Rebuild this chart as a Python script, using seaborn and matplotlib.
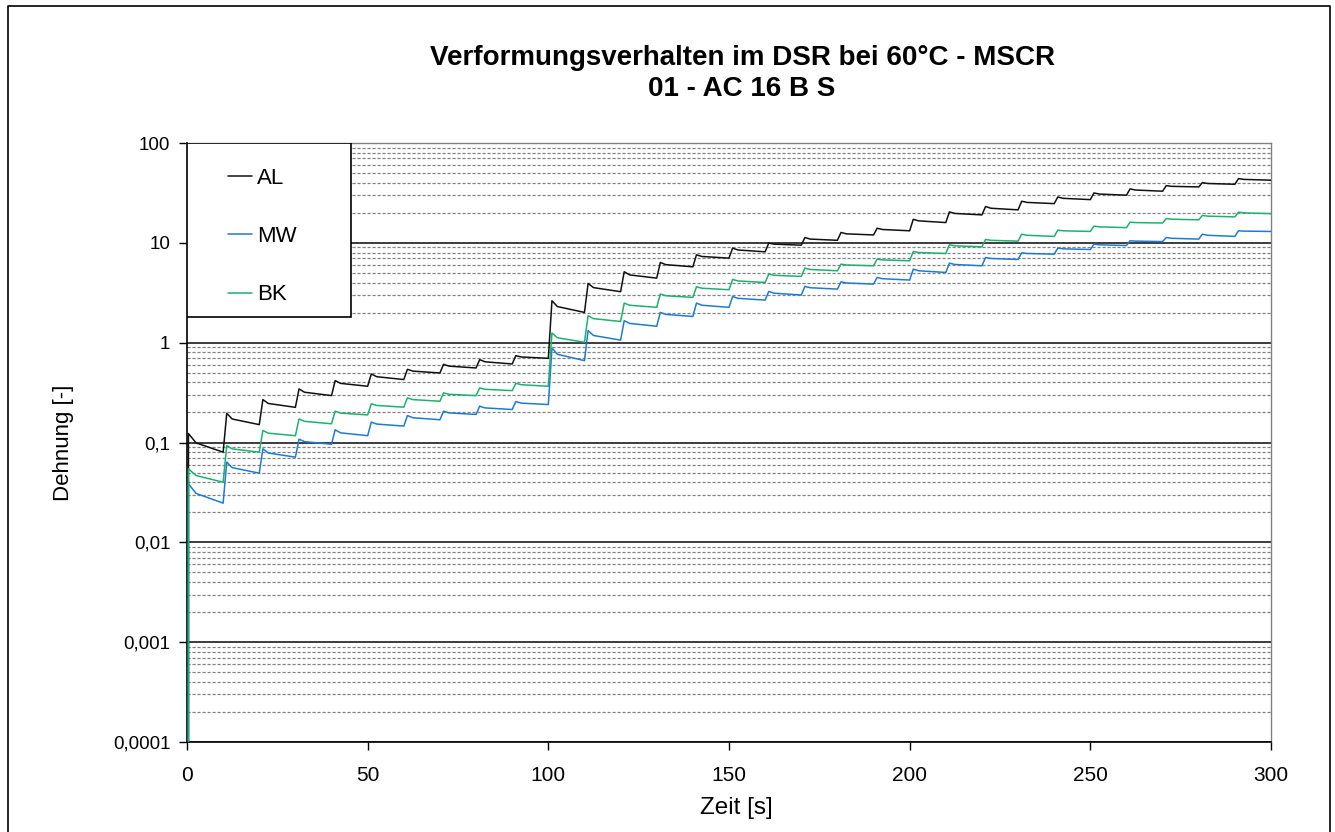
import numpy as np
import pandas as pd
import matplotlib
matplotlib.use("Agg")
import matplotlib.pyplot as plt
from matplotlib.ticker import FixedLocator, FixedFormatter, LogLocator, NullFormatter
from matplotlib.patches import Rectangle
from matplotlib.lines import Line2D
import seaborn as sns

# ---------------- data ----------------
series_names = ["AL", "MW", "BK"]
cycle_start = [0, 10, 20, 30, 40, 50, 60, 70, 80, 90,
               100, 110, 120, 130, 140, 150, 160, 170, 180, 190,
               200, 210, 220, 230, 240, 250, 260, 270, 280, 290]
# time after cycle start at which the peak is reached (first cycle reads earlier)
peak_offset = [0.4] + [1.0] * 29
mid_offset = 2.5
cycle_length = 10.0

AL_peak = [0.123, 0.196, 0.269, 0.344, 0.417, 0.486, 0.541, 0.607, 0.676, 0.741,
           2.63, 3.92, 5.13, 6.36, 7.59, 8.85, 9.93, 11.3, 12.7, 14.0,
           17.2, 20.4, 23.1, 26.1, 28.8, 31.6, 34.7, 37.4, 40.1, 44.0]
AL_mid = [0.0992, 0.172, 0.246, 0.319, 0.391, 0.456, 0.519, 0.582, 0.643, 0.719,
          2.30, 3.56, 4.77, 6.05, 7.30, 8.48, 9.70, 10.9, 12.3, 13.6,
          16.6, 19.7, 22.2, 25.4, 27.9, 30.8, 33.8, 36.8, 39.3, 43.2]
AL_end = [0.080, 0.151, 0.225, 0.295, 0.366, 0.427, 0.497, 0.558, 0.612, 0.697,
          2.01, 3.24, 4.43, 5.75, 7.03, 8.13, 9.48, 10.6, 12.0, 13.2,
          15.96, 19.05, 21.4, 24.7, 27.1, 30.0, 32.9, 36.3, 38.6, 42.4]

MW_peak = [0.0386, 0.0636, 0.0865, 0.108, 0.134, 0.160, 0.186, 0.206, 0.231, 0.257,
           0.885, 1.32, 1.66, 2.01, 2.49, 2.90, 3.26, 3.66, 4.07, 4.50,
           5.45, 6.26, 7.13, 7.94, 8.85, 9.70, 10.5, 11.3, 12.2, 13.2]
MW_mid = [0.0309, 0.0560, 0.0785, 0.102, 0.125, 0.153, 0.177, 0.198, 0.222, 0.248,
          0.765, 1.18, 1.56, 1.92, 2.37, 2.78, 3.13, 3.55, 3.96, 4.37,
          5.25, 6.07, 6.97, 7.82, 8.71, 9.55, 10.4, 11.1, 11.9, 13.1]
MW_end = [0.0247, 0.0493, 0.0713, 0.0960, 0.117, 0.146, 0.169, 0.191, 0.214, 0.240,
          0.661, 1.06, 1.46, 1.83, 2.26, 2.67, 3.00, 3.44, 3.86, 4.24,
          5.05, 5.89, 6.81, 7.70, 8.57, 9.40, 10.3, 10.9, 11.6, 13.0]

BK_peak = [0.0545, 0.093, 0.132, 0.172, 0.206, 0.244, 0.280, 0.314, 0.352, 0.392,
           1.25, 1.86, 2.49, 3.07, 3.63, 4.30, 4.86, 5.58, 6.12, 6.87,
           8.19, 9.55, 10.8, 12.2, 13.4, 14.7, 16.1, 17.5, 18.8, 20.3]
BK_mid = [0.0467, 0.0863, 0.124, 0.163, 0.197, 0.235, 0.269, 0.304, 0.341, 0.379,
          1.12, 1.74, 2.37, 2.95, 3.51, 4.15, 4.73, 5.41, 6.00, 6.74,
          8.00, 9.33, 10.6, 11.9, 13.2, 14.45, 15.95, 17.25, 18.5, 19.95]
BK_end = [0.040, 0.080, 0.117, 0.154, 0.189, 0.226, 0.259, 0.295, 0.331, 0.366,
          1.01, 1.63, 2.26, 2.84, 3.39, 4.01, 4.61, 5.25, 5.89, 6.61,
          7.82, 9.12, 10.4, 11.6, 13.0, 14.2, 15.8, 17.0, 18.2, 19.6]

initial_strain = 0.0

x_ticks = [0, 50, 100, 150, 200, 250, 300]
y_ticks = [0.0001, 0.001, 0.01, 0.1, 1, 10, 100]
y_ticklabels = ["0,0001", "0,001", "0,01", "0,1", "1", "10", "100"]

title_line1 = "Verformungsverhalten im DSR bei 60°C - MSCR"
title_line2 = "01 - AC 16 B S"
xlabel = "Zeit [s]"
ylabel = "Dehnung [-]"

colors = {"AL": "#111111", "MW": "#1f7bd2", "BK": "#1bb26e"}

# ---------------- build long table ----------------
peaks = {"AL": AL_peak, "MW": MW_peak, "BK": BK_peak}
mids = {"AL": AL_mid, "MW": MW_mid, "BK": BK_mid}
ends = {"AL": AL_end, "MW": MW_end, "BK": BK_end}
rows = []
for name in series_names:
    rows.append((name, 0.0, initial_strain))
    for t0, po, p, m, e in zip(cycle_start, peak_offset, peaks[name], mids[name], ends[name]):
        rows.append((name, t0 + po, p))
        rows.append((name, t0 + mid_offset, m))
        rows.append((name, t0 + cycle_length, e))
df = pd.DataFrame(rows, columns=["Serie", "Zeit", "Dehnung"])

# ---------------- plot ----------------
sns.set_theme(style="white")
plt.rcParams["font.family"] = ["Liberation Sans", "DejaVu Sans"]
plt.rcParams["text.color"] = "black"
plt.rcParams["axes.labelcolor"] = "black"
plt.rcParams["xtick.color"] = "black"
plt.rcParams["ytick.color"] = "black"

W, H = 1335, 832
fig = plt.figure(figsize=(W / 100, H / 100), dpi=100)
L, R, T, B = 187, 1271, 143, 742
ax = fig.add_axes([L / W, 1 - B / H, (R - L) / W, (B - T) / H])

ax.set_yscale("log")
sns.lineplot(data=df, x="Zeit", y="Dehnung", hue="Serie", palette=colors,
             hue_order=series_names, estimator=None, sort=False,
             linewidth=1.1, legend=False, ax=ax, zorder=3)

ax.set_xlim(0, 300)
ax.set_ylim(0.0001, 100)

ax.yaxis.set_major_locator(FixedLocator(y_ticks))
ax.yaxis.set_major_formatter(FixedFormatter(y_ticklabels))
ax.yaxis.set_minor_locator(LogLocator(base=10, subs=np.arange(2, 10)))
ax.yaxis.set_minor_formatter(NullFormatter())
ax.set_xticks(x_ticks)

ax.grid(False)
ax.yaxis.grid(True, which="major", color="#3c3c3c", linewidth=1.4, linestyle="-", zorder=1)
ax.yaxis.grid(True, which="minor", color="#808080", linewidth=0.9,
              linestyle=(0, (2.5, 1.5)), zorder=1)
ax.set_axisbelow(True)

ax.tick_params(axis="y", which="major", direction="out", length=6, width=1,
               color="black", labelsize=13.5, pad=6, left=True, labelcolor="black")
ax.tick_params(axis="y", which="minor", length=0, left=False)
ax.tick_params(axis="x", which="major", direction="out", length=6, width=1,
               color="black", labelsize=15, pad=11, bottom=True, labelcolor="black")

for s in ["left", "bottom"]:
    ax.spines[s].set_color("black")
    ax.spines[s].set_linewidth(1.2)
for s in ["top", "right"]:
    ax.spines[s].set_color("#808080")
    ax.spines[s].set_linewidth(1.0)

ax.set_xlabel(xlabel, fontsize=17.5, color="black")
ax.xaxis.set_label_coords((736 - L) / (R - L), -(797 - B) / (B - T))
ax.set_ylabel(ylabel, fontsize=16, color="black")
ax.yaxis.set_label_coords(-(L - 74) / (R - L), 0.5)

fig.text(742 / W, 1 - 58 / H, title_line1, ha="center", va="center",
         fontsize=20, fontweight="bold", color="black")
fig.text(742 / W, 1 - 89 / H, title_line2, ha="center", va="center",
         fontsize=20, fontweight="bold", color="black")

# legend box
box = Rectangle((0, (B - 317) / (B - T)), (351 - L) / (R - L), (317 - T) / (B - T),
                transform=ax.transAxes, facecolor="white", edgecolor="black",
                linewidth=1.2, zorder=5)
ax.add_patch(box)
handles = [Line2D([], [], color=colors[n], linewidth=1.1) for n in series_names]
leg = ax.legend(handles, series_names, loc="upper left",
                bbox_to_anchor=(0.0295, 0.973), frameon=False, fontsize=16,
                handlelength=1.08, handletextpad=0.22, labelspacing=1.67,
                borderaxespad=0)
leg.set_zorder(6)
for txt in leg.get_texts():
    txt.set_color("black")

# figure frame (left, top, right)
fig.add_artist(Line2D([8 / W, 8 / W, 1330 / W, 1330 / W],
                      [0, 1 - 6 / H, 1 - 6 / H, 0],
                      transform=fig.transFigure, color="black", linewidth=1.2))

fig.savefig("out.png", dpi=100)
